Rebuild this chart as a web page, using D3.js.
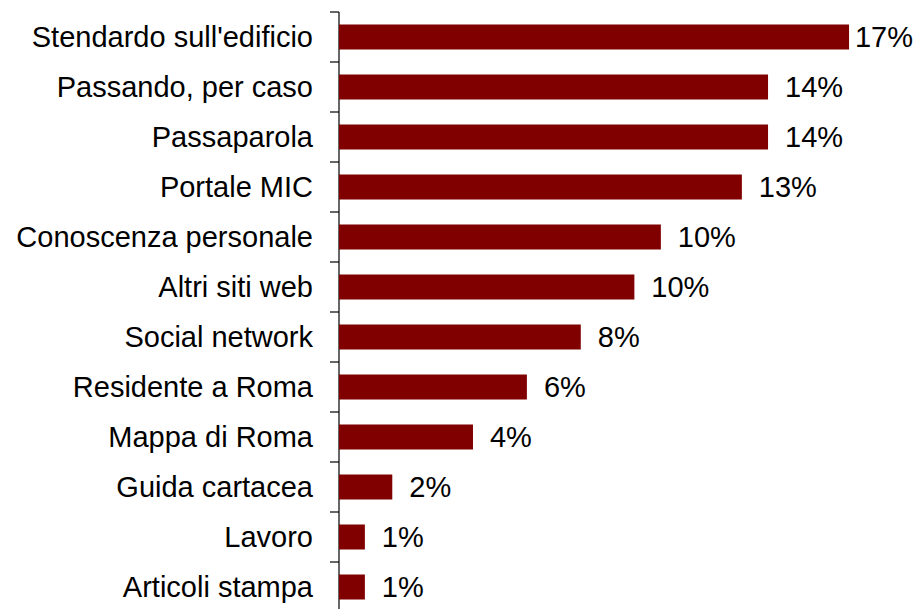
<!DOCTYPE html>
<html>
<head>
<meta charset="utf-8">
<script src="https://cdn.jsdelivr.net/npm/d3@7"></script>
<style>
  body { margin: 0; background: #fff; }
  svg text { font-family: "Liberation Sans", Arial, sans-serif; fill: #000; }
</style>
</head>
<body>
<svg id="barChart"></svg>
<script>
// categories, top to bottom
var categories = ["Stendardo sull'edificio", "Passando, per caso", "Passaparola", "Portale MIC",
  "Conoscenza personale", "Altri siti web", "Social network", "Residente a Roma",
  "Mappa di Roma", "Guida cartacea", "Lavoro", "Articoli stampa"];
// shares
var shares = [0.1656, 0.1393, 0.1393, 0.1308, 0.1045, 0.0959, 0.0785, 0.0610, 0.0435, 0.0173, 0.0084, 0.0084];

var data = categories.map(function(c, i) { return {name: c, value: shares[i]}; });

var W = 917, H = 609;
var margin = {top: 12, left: 339};
var fontSize = 29;

var svg = d3.select("#barChart").attr("width", W).attr("height", H);
var g = svg.append("g").attr("transform", "translate(" + margin.left + "," + margin.top + ")");

var x = d3.scaleLinear().domain([0, 0.2]).range([0, 616]);
var y = d3.scaleBand().domain(categories).range([0, 600])
  .paddingInner(0.5).paddingOuter(0.25);

// axis line + ticks at band boundaries
g.append("line")
  .attr("x1", 0).attr("x2", 0).attr("y1", 0).attr("y2", 600)
  .attr("stroke", "#000").attr("stroke-width", 1.2);
g.selectAll(".tick")
  .data(d3.range(categories.length + 1))
  .enter().append("line")
  .attr("x1", -9).attr("x2", 0)
  .attr("y1", function(i) { return i * y.step(); })
  .attr("y2", function(i) { return i * y.step(); })
  .attr("stroke", "#000").attr("stroke-width", 1.2);

// category labels
g.selectAll(".cat")
  .data(data)
  .enter().append("text")
  .attr("x", -26)
  .attr("y", function(d) { return y(d.name) + y.bandwidth() / 2; })
  .attr("dy", "0.35em")
  .attr("text-anchor", "end")
  .style("font-size", fontSize + "px")
  .text(function(d) { return d.name; });

// bars
g.selectAll(".bar")
  .data(data)
  .enter().append("rect")
  .attr("x", 0)
  .attr("y", function(d) { return y(d.name); })
  .attr("height", y.bandwidth())
  .attr("width", function(d) { return x(d.value); })
  .attr("fill", "#800000");

// value labels, pushed back inside the right edge when needed
var fmt = d3.format(".0%");
g.selectAll(".val")
  .data(data)
  .enter().append("text")
  .attr("y", function(d) { return y(d.name) + y.bandwidth() / 2; })
  .attr("dy", "0.35em")
  .style("font-size", fontSize + "px")
  .text(function(d) { return fmt(d.value); })
  .attr("x", function(d) {
    var w = this.getComputedTextLength();
    var px = x(d.value) + 17;
    var maxX = W - 4 - margin.left - w;
    return Math.min(px, maxX);
  });
</script>
</body>
</html>
